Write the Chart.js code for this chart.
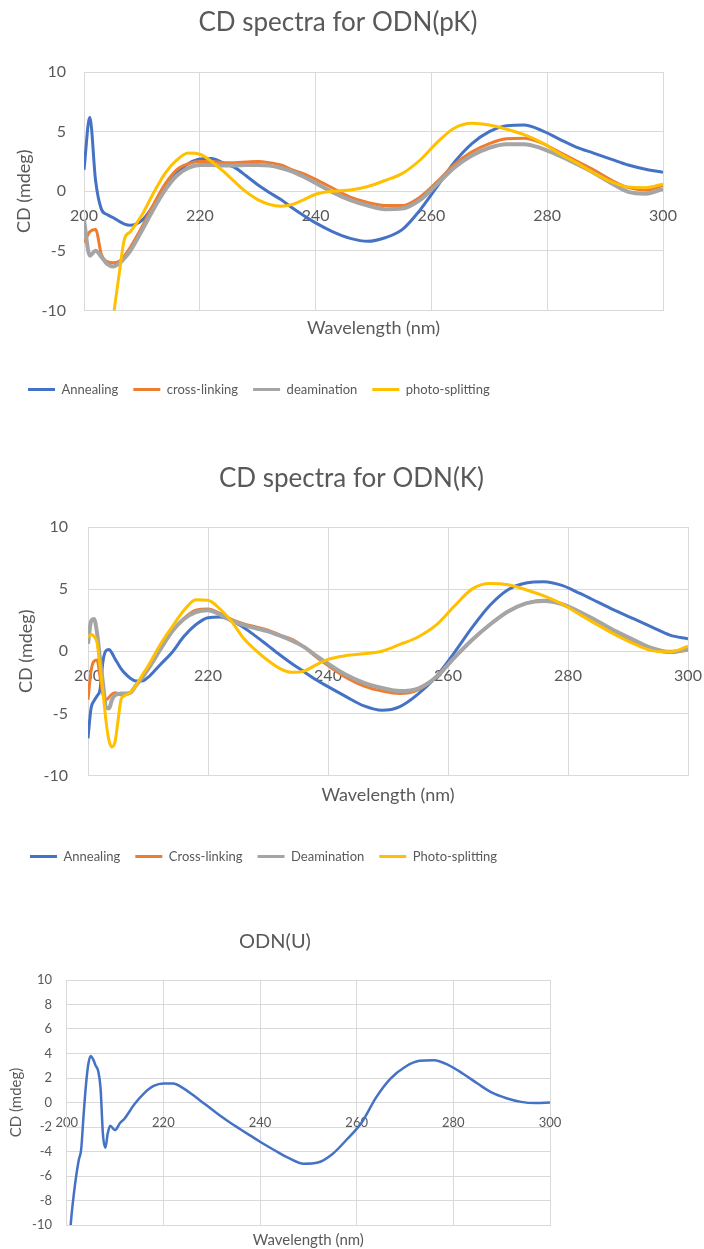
<!DOCTYPE html>
<html>
<head>
<meta charset="utf-8">
<script src="https://cdn.jsdelivr.net/npm/chart.js@4.4.1/dist/chart.umd.min.js"></script>
<style>
  body { margin: 0; background: #fff; }
  .box { position: absolute; left: 0; }
</style>
</head>
<body>
<div class="box" style="top: 0; width: 704px; height: 406px"><canvas id="cd-pk"></canvas></div>
<div class="box" style="top: 440px; width: 704px; height: 433px"><canvas id="cd-k"></canvas></div>
<div class="box" style="top: 920px; width: 562px; height: 329px"><canvas id="cd-u"></canvas></div>
<script>
// ---- ODN(pK)
const wlPK = [200, 201, 202, 203, 204, 205, 206, 207, 208, 210, 212, 214, 216, 218, 220, 222, 224, 226, 228, 230, 232, 234, 236, 238, 240, 243, 246, 249, 252, 255, 258, 261, 264, 267, 270, 273, 276, 279, 282, 285, 288, 291, 294, 297, 300]
const annealingPK = [1.8, 6.2, 0.9, -1.5, -1.95, -2.2, -2.5, -2.75, -2.85, -2.45, -1.2, 0.2, 1.5, 2.3, 2.7, 2.75, 2.4, 2.0, 1.3, 0.55, -0.1, -0.7, -1.4, -2.05, -2.65, -3.4, -3.95, -4.2, -3.9, -3.2, -1.6, 0.4, 2.45, 4.0, 5.0, 5.5, 5.55, 5.1, 4.4, 3.7, 3.2, 2.7, 2.2, 1.85, 1.6]
const crossLinkingPK = [-4.3, -3.4, -3.2, -5.3, -5.9, -6.0, -5.9, -5.4, -4.7, -3.0, -1.1, 0.6, 1.8, 2.3, 2.5, 2.5, 2.4, 2.4, 2.45, 2.5, 2.4, 2.2, 1.8, 1.45, 1.0, 0.25, -0.5, -0.95, -1.2, -1.2, -0.5, 0.8, 2.25, 3.3, 4.0, 4.4, 4.45, 4.05, 3.3, 2.55, 1.8, 0.95, 0.3, 0.1, 0.5]
const deaminationPK = [-2.4, -5.4, -5.0, -5.5, -6.1, -6.3, -6.1, -5.6, -5.0, -3.3, -1.5, 0.1, 1.3, 1.95, 2.2, 2.2, 2.15, 2.15, 2.2, 2.2, 2.15, 1.95, 1.65, 1.2, 0.7, -0.1, -0.75, -1.2, -1.5, -1.45, -0.75, 0.6, 2.0, 3.0, 3.65, 3.95, 3.95, 3.6, 3.0, 2.3, 1.55, 0.7, -0.05, -0.2, 0.2]
const photoSplittingPK = [null, null, null, null, -15, -10.8, -7.2, -4.0, -3.4, -2.0, -0.15, 1.5, 2.6, 3.2, 3.1, 2.5, 1.7, 0.8, -0.05, -0.7, -1.1, -1.25, -1.1, -0.7, -0.25, 0, 0.1, 0.4, 0.9, 1.5, 2.6, 4.1, 5.3, 5.7, 5.55, 5.2, 4.75, 4.1, 3.2, 2.4, 1.55, 0.8, 0.35, 0.3, 0.6]

// ---- ODN(K)
const wlK = [200, 200.5, 201, 201.5, 202, 202.5, 203, 203.5, 204, 204.5, 205, 205.5, 206, 207, 208, 209, 210, 212, 214, 216, 218, 220, 222, 224, 226, 228, 230, 232, 234, 236, 238, 240, 243, 246, 249, 252, 255, 258, 261, 264, 267, 270, 273, 276, 279, 282, 285, 288, 291, 294, 297, 300]
const annealingK = [-7.0, -4.6, -4.0, -3.6, -3.1, -0.8, 0.05, 0.15, -0.15, -0.6, -1.0, -1.4, -1.7, -2.15, -2.4, -2.4, -2.1, -1.1, -0.1, 1.2, 2.15, 2.7, 2.75, 2.45, 1.9, 1.2, 0.45, -0.3, -1.0, -1.65, -2.3, -2.85, -3.65, -4.4, -4.75, -4.45, -3.45, -2.05, -0.15, 1.9, 3.7, 4.95, 5.5, 5.6, 5.3, 4.65, 3.95, 3.25, 2.6, 1.95, 1.3, 1.0]
const crossLinkingK = [-3.9, -1.6, -0.8, -0.7, -2.0, -3.5, -3.9, -3.7, -3.45, -3.35, -3.4, -3.5, -3.5, -3.35, -2.7, -2.1, -1.4, 0.1, 1.55, 2.65, 3.3, 3.4, 3.05, 2.55, 2.2, 1.95, 1.7, 1.3, 0.95, 0.35, -0.45, -1.15, -2.1, -2.8, -3.2, -3.4, -3.1, -2.1, -0.55, 0.9, 2.15, 3.2, 3.85, 4.1, 3.8, 3.1, 2.35, 1.5, 0.8, 0.15, -0.1, 0.1]
const deaminationK = [0.6, 2.4, 2.6, 1.5, -0.6, -2.6, -4.5, -4.6, -3.9, -3.55, -3.45, -3.4, -3.4, -3.35, -2.75, -2.15, -1.45, 0.1, 1.6, 2.6, 3.15, 3.3, 2.95, 2.45, 2.1, 1.85, 1.6, 1.25, 0.85, 0.35, -0.35, -1.0, -1.9, -2.55, -2.95, -3.2, -3.0, -2.1, -0.55, 0.9, 2.15, 3.2, 3.85, 4.05, 3.8, 3.15, 2.4, 1.6, 0.9, 0.25, -0.05, 0.15]
const photoSplittingK = [1.1, 1.35, 1.2, 0.7, -1.2, -3.3, -5.6, -7.2, -7.7, -7.3, -5.6, -3.9, -3.6, -3.35, -2.75, -1.95, -1.2, 0.5, 1.95, 3.3, 4.15, 4.1, 3.4, 2.35, 1.0, 0.05, -0.75, -1.4, -1.7, -1.6, -1.1, -0.65, -0.35, -0.2, 0.0, 0.55, 1.15, 2.1, 3.6, 5.0, 5.45, 5.35, 4.95, 4.45, 3.8, 2.95, 2.1, 1.3, 0.6, 0.05, -0.05, 0.4]

// ---- ODN(U)
const wlU = [200.5, 201, 201.5, 202, 202.5, 203, 203.5, 204, 204.5, 205, 205.5, 206, 206.5, 207, 207.5, 208, 208.5, 209, 210, 211, 212, 214, 216, 218, 220, 222, 224, 226, 228, 230, 232, 234, 236, 238, 240, 243, 246, 249, 252, 255, 258, 261, 264, 267, 270, 273, 276, 279, 282, 285, 288, 291, 294, 297, 300]
const cdU = [-11.5, -9.2, -7.4, -5.9, -4.7, -3.8, -1.0, 1.5, 3.2, 3.8, 3.5, 3.0, 2.6, 1.2, -2.6, -3.7, -2.5, -1.9, -2.25, -1.7, -1.3, -0.15, 0.75, 1.35, 1.55, 1.55, 1.2, 0.65, 0.05, -0.55, -1.15, -1.7, -2.2, -2.7, -3.2, -3.9, -4.55, -5.0, -4.9, -4.2, -3.0, -1.65, 0.4, 1.95, 2.9, 3.4, 3.45, 3.05, 2.35, 1.55, 0.8, 0.35, 0.05, -0.05, 0.0]

const yTicks = [-10, -5, 0, 5, 10]
const yTicksU = [-10, -8, -6, -4, -2, 0, 2, 4, 6, 8, 10]

const BLUE = '#4472C4'
const ORANGE = '#ED7D31'
const GRAY = '#A5A5A5'
const YELLOW = '#FFC000'
const GRID = '#D9D9D9'

Chart.defaults.font.family = 'Lato'
Chart.defaults.color = '#595959'

function pts(xs, ys) {
  return xs.map((x, i) => ({ x: x, y: ys[i] }))
}

function line(label, xs, ys, color, width, order) {
  return {
    label: label,
    data: pts(xs, ys),
    borderColor: color,
    backgroundColor: color,
    borderWidth: width,
    pointRadius: 0,
    fill: false,
    cubicInterpolationMode: 'monotone',
    order: order
  }
}

// s = layout settings of one chart
function makeOptions(s) {
  return {
    responsive: true,
    maintainAspectRatio: false,
    animation: false,
    layout: { padding: { left: s.padLeft, right: s.padRight, top: 0, bottom: 0 } },
    plugins: {
      title: {
        display: true,
        text: s.title,
        font: { size: s.titleSize, weight: 'normal' },
        padding: { top: s.titleTop, bottom: s.titleBottom }
      },
      legend: {
        display: s.legend,
        position: 'bottom',
        align: 'start',
        labels: {
          boxWidth: 27,
          boxHeight: 3,
          padding: 15,
          font: { size: 13 },
          sort: (a, b) => a.datasetIndex - b.datasetIndex,
          generateLabels: chart =>
            Chart.defaults.plugins.legend.labels
              .generateLabels(chart)
              .map(l => Object.assign(l, { lineWidth: 0 }))
        }
      },
      tooltip: { enabled: false }
    },
    scales: {
      x: {
        type: 'linear',
        min: 200,
        max: 300,
        ticks: { display: false, stepSize: 20 },
        grid: { color: GRID, drawTicks: false },
        border: { color: GRID },
        title: {
          display: true,
          text: 'Wavelength (nm)',
          font: { size: s.axisTitleSize },
          padding: { top: 0, bottom: s.xTitleBottom }
        },
        afterFit: scale => { scale.height = s.xHeight }
      },
      // tick labels sit on the zero line, like the Excel original
      xLabels: {
        axis: 'x',
        type: 'linear',
        position: { y: 0 },
        min: 200,
        max: 300,
        ticks: { stepSize: 20, padding: s.xTickPad, font: { size: s.tickSize } },
        grid: { display: false, drawTicks: false, tickLength: 0 },
        border: { display: false },
        afterFit: scale => {
          scale.paddingLeft = 0
          scale.paddingRight = 0
        }
      },
      y: {
        min: -10,
        max: 10,
        afterBuildTicks: scale => {
          scale.ticks = s.yTicks.map(v => ({ value: v }))
        },
        ticks: { padding: s.yTickPad, font: { size: s.tickSize } },
        grid: { color: GRID, drawTicks: false },
        border: { color: GRID },
        title: {
          display: true,
          text: 'CD (mdeg)',
          font: { size: s.yTitleSize },
          padding: { top: s.yTitleTop, bottom: 0 }
        },
        afterFit: scale => { scale.width = s.yWidth }
      }
    }
  }
}

new Chart(document.getElementById('cd-pk'), {
  type: 'line',
  data: {
    datasets: [
      line('Annealing', wlPK, annealingPK, BLUE, 3, 3),
      line('cross-linking', wlPK, crossLinkingPK, ORANGE, 3, 2),
      line('deamination', wlPK, deaminationPK, GRAY, 4, 1),
      line('photo-splitting', wlPK, photoSplittingPK, YELLOW, 3, 0)
    ]
  },
  options: makeOptions({
    title: 'CD spectra for ODN(pK)',
    titleSize: 26,
    titleTop: 7.4,
    titleBottom: 33.4,
    legend: true,
    padLeft: 13,
    padRight: 41,
    yWidth: 71,
    yTitleTop: 0,
    yTitleSize: 18,
    yTickPad: 18,
    yTicks: yTicks,
    tickSize: 16,
    xTickPad: 14.5,
    xHeight: 57.5,
    xTitleBottom: 28.7,
    axisTitleSize: 18
  })
})

new Chart(document.getElementById('cd-k'), {
  type: 'line',
  data: {
    datasets: [
      line('Annealing', wlK, annealingK, BLUE, 3, 3),
      line('Cross-linking', wlK, crossLinkingK, ORANGE, 3, 2),
      line('Deamination', wlK, deaminationK, GRAY, 4, 1),
      line('Photo-splitting', wlK, photoSplittingK, YELLOW, 3, 0)
    ]
  },
  options: makeOptions({
    title: 'CD spectra for ODN(K)',
    titleSize: 26,
    titleTop: 23.4,
    titleBottom: 32.4,
    legend: true,
    padLeft: 15,
    padRight: 16,
    yWidth: 73,
    yTitleTop: 0,
    yTitleSize: 18,
    yTickPad: 20,
    yTicks: yTicks,
    tickSize: 16,
    xTickPad: 15.4,
    xHeight: 59.5,
    xTitleBottom: 28.7,
    axisTitleSize: 18
  })
})

new Chart(document.getElementById('cd-u'), {
  type: 'line',
  data: {
    datasets: [line('ODN(U)', wlU, cdU, BLUE, 2.5, 0)]
  },
  options: makeOptions({
    title: 'ODN(U)',
    titleSize: 20,
    titleTop: 10,
    titleBottom: 26,
    legend: false,
    padLeft: 0,
    padRight: 12,
    yWidth: 66.7,
    yTitleTop: 7.5,
    yTitleSize: 15,
    yTickPad: 14.7,
    yTicks: yTicksU,
    tickSize: 13,
    xTickPad: 13,
    xHeight: 24,
    xTitleBottom: 0,
    axisTitleSize: 15
  })
})
</script>
</body>
</html>
